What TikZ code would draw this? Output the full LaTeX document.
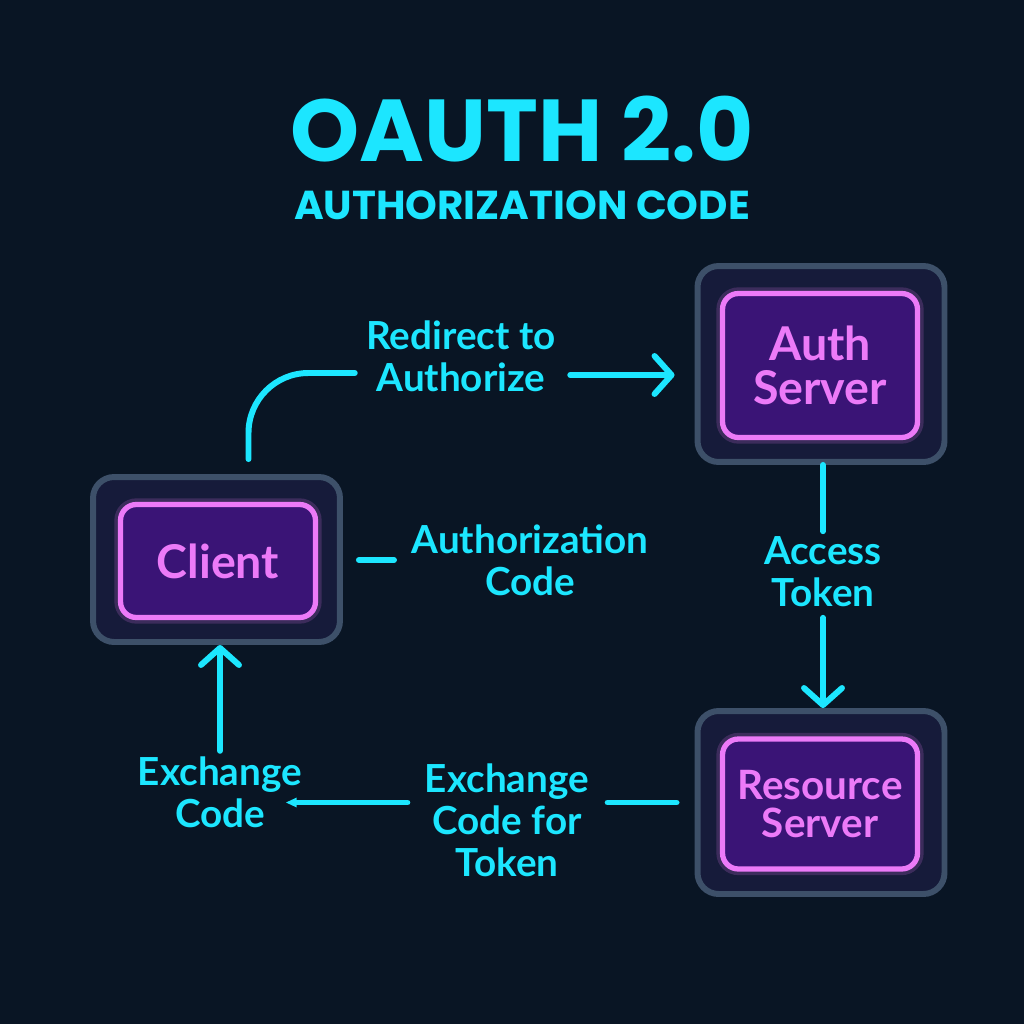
\documentclass[tikz,border=0pt]{standalone}
\usepackage{fontspec}
\setmainfont{Lato}
\newfontfamily\titlefont{Poppins}
\usepackage{tikz}
\usetikzlibrary{arrows.meta, positioning, calc}

\definecolor{fond}{RGB}{9,21,36}
\definecolor{neon}{RGB}{28,230,255}
\definecolor{rose}{RGB}{236,122,248}
\definecolor{violet}{RGB}{58,20,118}
\definecolor{cadrebord}{RGB}{61,80,105}
\definecolor{cadrefond}{RGB}{22,27,58}

\begin{document}
\begin{tikzpicture}[
  x=0.02cm, y=-0.02cm,
  cadre/.style={
    draw=cadrebord, line width=3.4pt, rounded corners=12pt,
    fill=cadrefond, minimum width=4.94cm, inner sep=0pt
  },
  boite/.style={
    draw=rose, line width=3pt, rounded corners=9pt, fill=violet,
    text=rose, align=center, minimum width=3.9cm, inner sep=0pt,
    font=\bfseries\fontsize{26.5}{25}\selectfont,
    preaction={draw=rose, line width=7pt, opacity=0.18}
  },
  etiquette/.style={
    text=neon, align=center, inner sep=3pt,
    font=\bfseries\fontsize{22}{24}\selectfont
  },
  titre/.style={text=neon, font=\titlefont\bfseries\fontsize{50}{56}\selectfont},
  soustitre/.style={text=neon, font=\titlefont\bfseries\fontsize{23}{26}\selectfont},
  fil/.style={draw=neon, line width=3.4pt, line cap=round, line join=round},
  fleche/.style={fil, -{Straight Barb[length=0.34cm, width=0.76cm, round]}},
  pointe/.style={fil, -{Triangle[length=0.22cm, width=0.18cm]}}
]
  % Fond
  \fill[fond] (0,0) rectangle (1024,1024);

  % Titre
  \node[titre] (titre) at (522,129) {OAUTH 2.0};
  \node[soustitre] (soustitre) at (522,205) {AUTHORIZATION CODE};

  % Acteurs
  \node[cadre, minimum height=3.3cm] (clientcadre) at (216.5,559.5) {};
  \node[boite, minimum height=2.26cm] (client) at (218,561) {Client};
  \node[cadre, minimum height=3.92cm] (authcadre) at (821,364) {};
  \node[boite, minimum height=2.88cm] (auth) at (820,365.5) {Auth\\Server};
  \node[cadre, minimum height=3.66cm] (rescadre) at (821,802.5) {};
  \node[boite, minimum height=2.6cm, font=\bfseries\fontsize{23}{22}\selectfont] (res) at (820,804) {Resource\\Server};

  % Etiquettes
  \node[etiquette] (redirect) at (461,356) {Redirect to\\Authorize};
  \node[etiquette] (authcode) at (530,560) {Authorization\\Code};
  \node[etiquette] (access) at (823,572) {Access\\Token};
  \node[etiquette] (exchfor) at (507,820) {Exchange\\Code for\\Token};
  \node[etiquette] (exchcode) at (220,792) {Exchange\\Code};

  % Redirection vers le serveur d'autorisation
  \draw[fil, rounded corners=1.2cm, shorten >=0.12cm]
    ([xshift=0.64cm, yshift=0.3cm]clientcadre.north) |- ([yshift=-0.34cm]redirect.west);
  \draw[fleche, shorten <=0.18cm, shorten >=0.4cm]
    ([yshift=-0.38cm]redirect.east) -- ([yshift=-0.22cm]authcadre.west);

  % Code renvoye au client
  \draw[fil, shorten <=0.32cm, shorten >=0.24cm] (clientcadre.east |- authcode.west) -- (authcode.west);

  % Jeton d'acces
  \draw[fil] (access.north |- authcadre.south) -- (access.north);
  \draw[fleche, shorten <=0.1cm] (access.south) -- (access.south |- rescadre.north);

  % Echange du code
  \draw[fil, shorten <=0.36cm, shorten >=0.26cm] (rescadre.west) -- (rescadre.west -| exchfor.east);
  \draw[pointe, shorten <=0.24cm]
    (rescadre.west -| exchfor.west) -- ($(rescadre.west -| exchcode.east)+(-22,0)$);
  \draw[fleche] (exchcode.north) -- (exchcode.north |- clientcadre.south);

\end{tikzpicture}
\end{document}
